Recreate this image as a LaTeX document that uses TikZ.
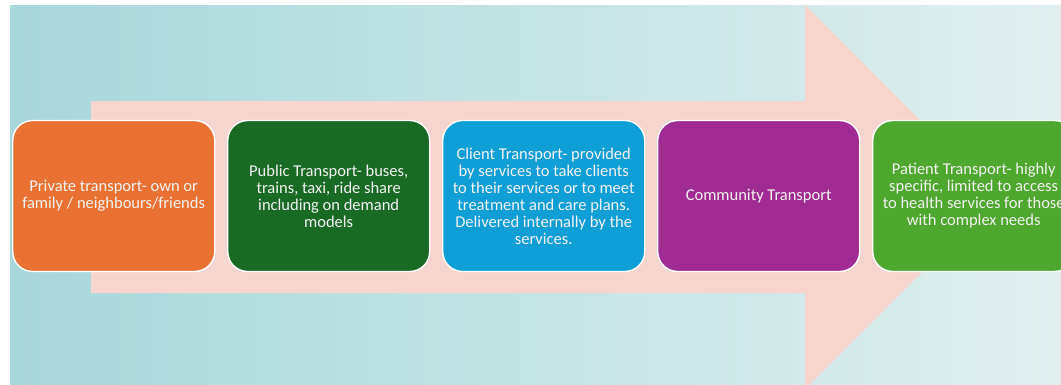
\documentclass[tikz,border=0pt]{standalone}
\usepackage{fontspec}
\setmainfont{Carlito}
\usetikzlibrary{positioning}
\definecolor{BackTeal}{HTML}{A8D7DA}
\definecolor{BackPale}{HTML}{E1EFEF}
\definecolor{ArrowPeach}{HTML}{F6D5CE}
\definecolor{ModeOrange}{HTML}{E97132}
\definecolor{ModeGreen}{HTML}{196B24}
\definecolor{ModeBlue}{HTML}{0F9ED5}
\definecolor{ModePurple}{HTML}{A02B93}
\definecolor{ModeLime}{HTML}{4EA72E}

\begin{document}
\begin{tikzpicture}[x=1pt,y=-1pt,node distance=11.6pt]
    \tikzset{modebox/.style={rounded corners=20pt,draw=white,line width=1.4pt,minimum width=202pt,minimum height=151pt,inner sep=0pt,align=center,text=white!95!black,font=\fontsize{16.5}{17}\selectfont}}
    \useasboundingbox (0,0) rectangle (1061,384);
    \clip (10,5) rectangle (1061,384);
    % backdrop and the big arrow behind the boxes
    \shade[left color=BackTeal,right color=BackPale] (10,5) rectangle (1061,384);
    \fill[ArrowPeach] (91,101) -- (805,101) -- (805,5) -- (997,197) -- (805,389) -- (805,293) -- (91,293) -- cycle;
    \node[modebox,fill=ModeOrange,anchor=west] (private) at (12,196) {Private transport- own or\\family / neighbours/friends};
    \node[modebox,fill=ModeGreen,right=of private] (public) {Public Transport- buses,\\trains, taxi, ride share\\including on demand\\models};
    \node[modebox,fill=ModeBlue,right=of public] (client) {Client Transport- provided\\by services to take clients\\to their services or to meet\\treatment and care plans.\\Delivered internally by the\\services.};
    \node[modebox,fill=ModePurple,right=of client] (community) {Community Transport};
    \node[modebox,fill=ModeLime,right=of community] (patient) {Patient Transport- highly\\specific, limited to access\\to health services for those\\with complex needs};
  \end{tikzpicture}
\end{document}
